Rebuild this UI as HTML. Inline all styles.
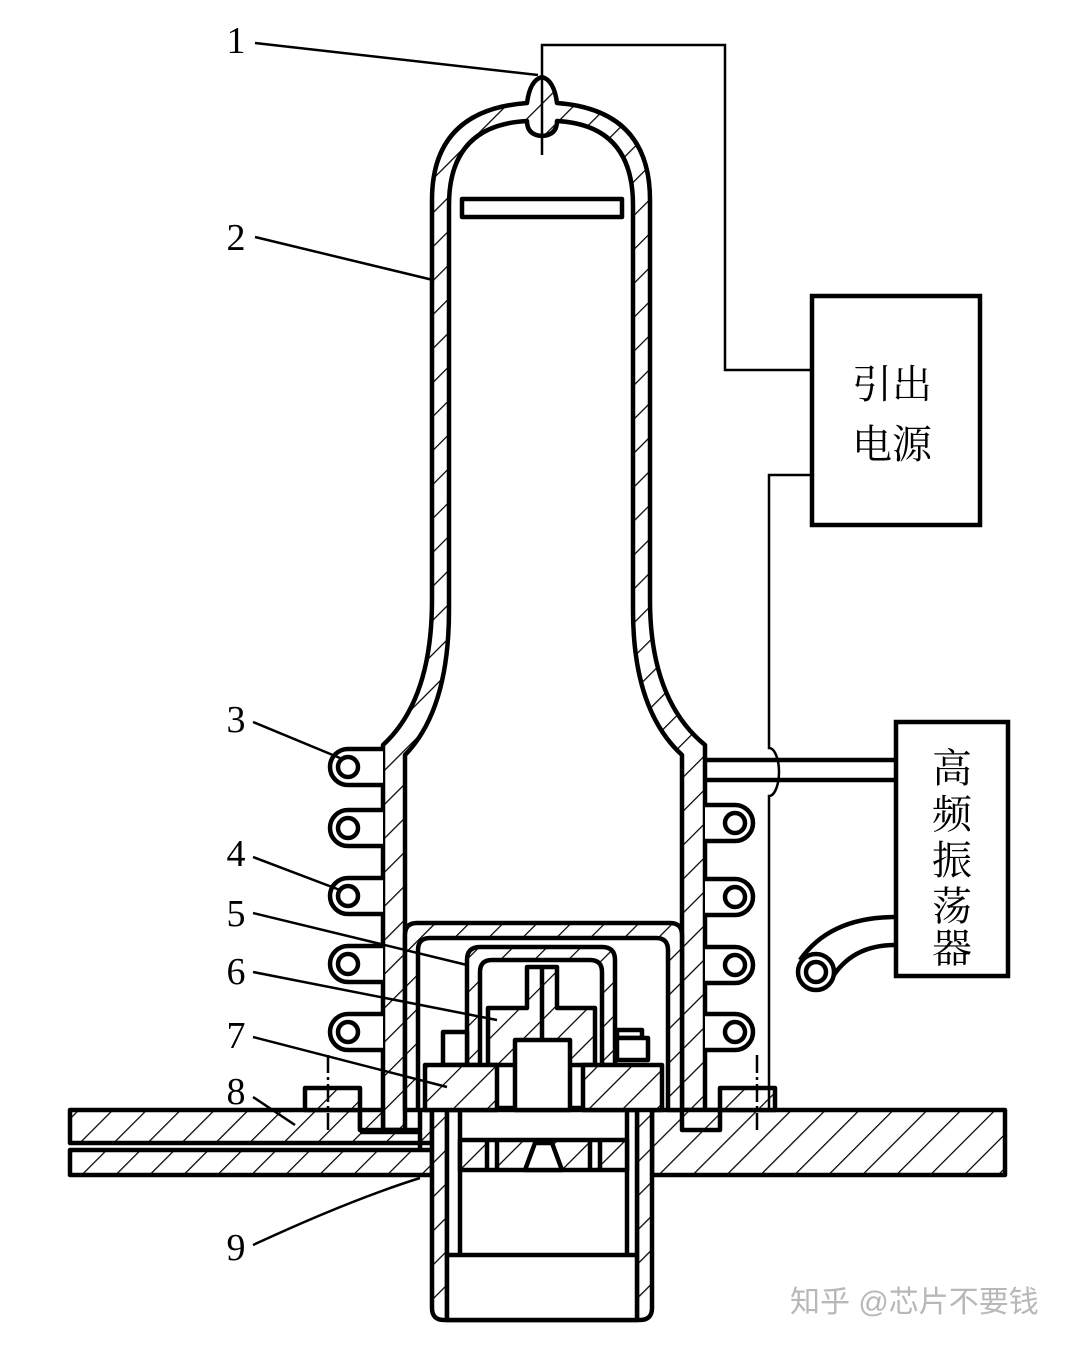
<!DOCTYPE html>
<html><head><meta charset="utf-8"><style>
body{margin:0;background:#fff}
svg{display:block}
text{font-family:"Liberation Serif","Noto Serif CJK SC",serif;fill:#000}
</style></head><body>
<svg width="1080" height="1345" viewBox="0 0 1080 1345" xmlns="http://www.w3.org/2000/svg">
<defs>
<pattern id="h" patternUnits="userSpaceOnUse" width="24" height="24" patternTransform="rotate(45)">
<rect width="24" height="24" fill="#fff"/><line x1="0" y1="0" x2="0" y2="24" stroke="#000" stroke-width="2.5"/>
</pattern>
</defs>
<g stroke="#000" stroke-width="4.5" fill="none" stroke-linejoin="round">
<path fill="url(#h)" fill-rule="evenodd" d="M383,1130 L383,745 Q432,700 432,600 L432,200 Q432,110 527,103 Q530,80 542,77 Q554,80 557,103 Q650,110 650,200 L650,600 Q650,700 705,745 L705,1130 L682,1130 L682,755 Q633,710 633,610 L633,205 Q633,125 557,121 Q557,135 542,136 Q527,135 527,121 Q449,125 449,205 L449,610 Q449,710 405,755 L405,1130 Z"/>
<rect x="462" y="199" width="160" height="18" fill="#fff"/>
<path fill="url(#h)" d="M70,1110 L360,1110 L360,1130 L405,1130 L405,1130 L420,1130 L420,1110 L432,1110 L432,1143 L70,1143 Z"/>
<path fill="url(#h)" d="M70,1150 L420,1150 L432,1150 L432,1175 L70,1175 Z"/>
<path fill="url(#h)" d="M652,1110 L1005,1110 L1005,1175 L652,1175 Z"/>
<path fill="url(#h)" d="M360,1130 L383,1130 L383,1110 L360,1110 Z"/>
<path fill="url(#h)" d="M705,1110 L720,1110 L720,1130 L682,1130 L682,1110 Z"/>
<path fill="url(#h)" d="M305,1088 L360,1088 L360,1110 L305,1110 Z"/>
<path fill="url(#h)" d="M720,1088 L775,1088 L775,1110 L720,1110 Z"/>
<path d="M360,1132 L405,1132 M405,1132 L420,1132 L420,1150"/>
<path fill="url(#h)" fill-rule="evenodd" d="M432,1108 L652,1108 L652,1308 Q652,1320 640,1320 L444,1320 Q432,1320 432,1308 Z M447,1110 L637,1110 L637,1320 L447,1320 Z"/>
<rect x="447" y="1110" width="190" height="210" fill="#fff"/>
<line x1="460" y1="1110" x2="460" y2="1255"/><line x1="627" y1="1110" x2="627" y2="1255"/>
<line x1="447" y1="1255" x2="637" y2="1255"/>
<rect x="460" y="1140" width="167" height="30" fill="url(#h)"/>
<path d="M525,1170 L535,1143 L552,1143 L562,1170 Z" fill="#fff"/>
<line x1="487" y1="1140" x2="487" y2="1170"/><line x1="497" y1="1140" x2="497" y2="1170"/>
<line x1="590" y1="1140" x2="590" y2="1170"/><line x1="600" y1="1140" x2="600" y2="1170"/>
<path fill="url(#h)" fill-rule="evenodd" d="M405,1110 L405,935 Q405,923 417,923 L670,923 Q682,923 682,935 L682,1110 L668,1110 L668,950 Q668,938 656,938 L430,938 Q418,938 418,950 L418,1110 Z"/>
<path fill="url(#h)" fill-rule="evenodd" d="M467,1065 L467,960 Q467,947 480,947 L602,947 Q615,947 615,960 L615,1065 L602,1065 L602,972 Q602,960 590,960 L492,960 Q480,960 480,972 L480,1065 Z"/>
<path fill="url(#h)" d="M488,1065 L488,1008 L527,1008 L527,967 L557,967 L557,1008 L595,1008 L595,1065 Z"/>
<line x1="542" y1="967" x2="542" y2="1040"/>
<rect x="515" y="1040" width="55" height="70" fill="#fff"/>
<rect x="443" y="1032" width="24" height="33" fill="#fff"/>
<rect x="617" y="1030" width="25" height="8" fill="#fff"/>
<rect x="617" y="1038" width="31" height="22" fill="#fff"/>
<rect x="425" y="1065" width="72" height="45" fill="url(#h)"/>
<rect x="583" y="1065" width="79" height="45" fill="url(#h)"/>
<g fill="#fff">
<path d="M383,749 L348,749 A18,18 0 0 0 348,785 L383,785"/><circle cx="348" cy="767" r="10"/>
<path d="M383,810 L348,810 A18,18 0 0 0 348,846 L383,846"/><circle cx="348" cy="828" r="10"/>
<path d="M383,878 L348,878 A18,18 0 0 0 348,914 L383,914"/><circle cx="348" cy="896" r="10"/>
<path d="M383,946 L348,946 A18,18 0 0 0 348,982 L383,982"/><circle cx="348" cy="964" r="10"/>
<path d="M383,1014 L348,1014 A18,18 0 0 0 348,1050 L383,1050"/><circle cx="348" cy="1032" r="10"/>
<path d="M705,805 L735,805 A18,18 0 0 1 735,841 L705,841"/><circle cx="735" cy="823" r="10"/>
<path d="M705,879 L735,879 A18,18 0 0 1 735,915 L705,915"/><circle cx="735" cy="897" r="10"/>
<path d="M705,947 L735,947 A18,18 0 0 1 735,983 L705,983"/><circle cx="735" cy="965" r="10"/>
<path d="M705,1014 L735,1014 A18,18 0 0 1 735,1050 L705,1050"/><circle cx="735" cy="1032" r="10"/>
</g>
<path d="M800,960 Q830,917 895,917 M828,985 Q848,945 895,945"/>
<circle cx="816" cy="972" r="18" fill="#fff"/><circle cx="816" cy="972" r="10"/>
</g>
<g stroke="#000" stroke-width="2.5" fill="none">
<path d="M542,155 L542,45 L725,45 L725,370 L812,370"/>
<path d="M812,475 L769,475 L769,748 A10,24 0 0 1 769,796 L769,1108"/>
<path d="M705,760 L895,760 M705,780 L895,780" stroke-width="4.5"/>
<line x1="328" y1="1055" x2="328" y2="1130" stroke-dasharray="18,4,3,4"/>
<line x1="757" y1="1055" x2="757" y2="1130" stroke-dasharray="18,4,3,4"/>
<path d="M255,43 L538,75"/>
<path d="M255,237 L433,280"/>
<path d="M253,722 L340,758"/>
<path d="M253,857 L340,890"/>
<path d="M253,913 L467,965"/>
<path d="M253,972 L497,1020"/>
<path d="M253,1037 L447,1087"/>
<path d="M253,1097 L295,1125"/>
<path d="M253,1245 Q350,1200 420,1178"/>
</g>
<rect x="812" y="296" width="168" height="229" fill="none" stroke="#000" stroke-width="4.5"/>
<rect x="896" y="722" width="112" height="254" fill="none" stroke="#000" stroke-width="4.5"/>
<g font-size="40">
<text x="852" y="398">引出</text><text x="852" y="458">电源</text>
</g>
<g font-size="40" text-anchor="middle">
<text x="952" y="782">高</text><text x="952" y="828">频</text><text x="952" y="874">振</text><text x="952" y="920">荡</text><text x="952" y="962">器</text>
</g>
<g font-size="38" text-anchor="middle">
<text x="236" y="53">1</text><text x="236" y="250">2</text><text x="236" y="732">3</text><text x="236" y="866">4</text><text x="236" y="926">5</text><text x="236" y="984">6</text><text x="236" y="1048">7</text><text x="236" y="1104">8</text><text x="236" y="1260">9</text>
</g>
<text x="790" y="1312" font-size="30" style="fill:#b8b8b8;font-family:'Liberation Sans','Noto Sans CJK SC',sans-serif">知乎 @芯片不要钱</text>
</svg>
</body></html>
